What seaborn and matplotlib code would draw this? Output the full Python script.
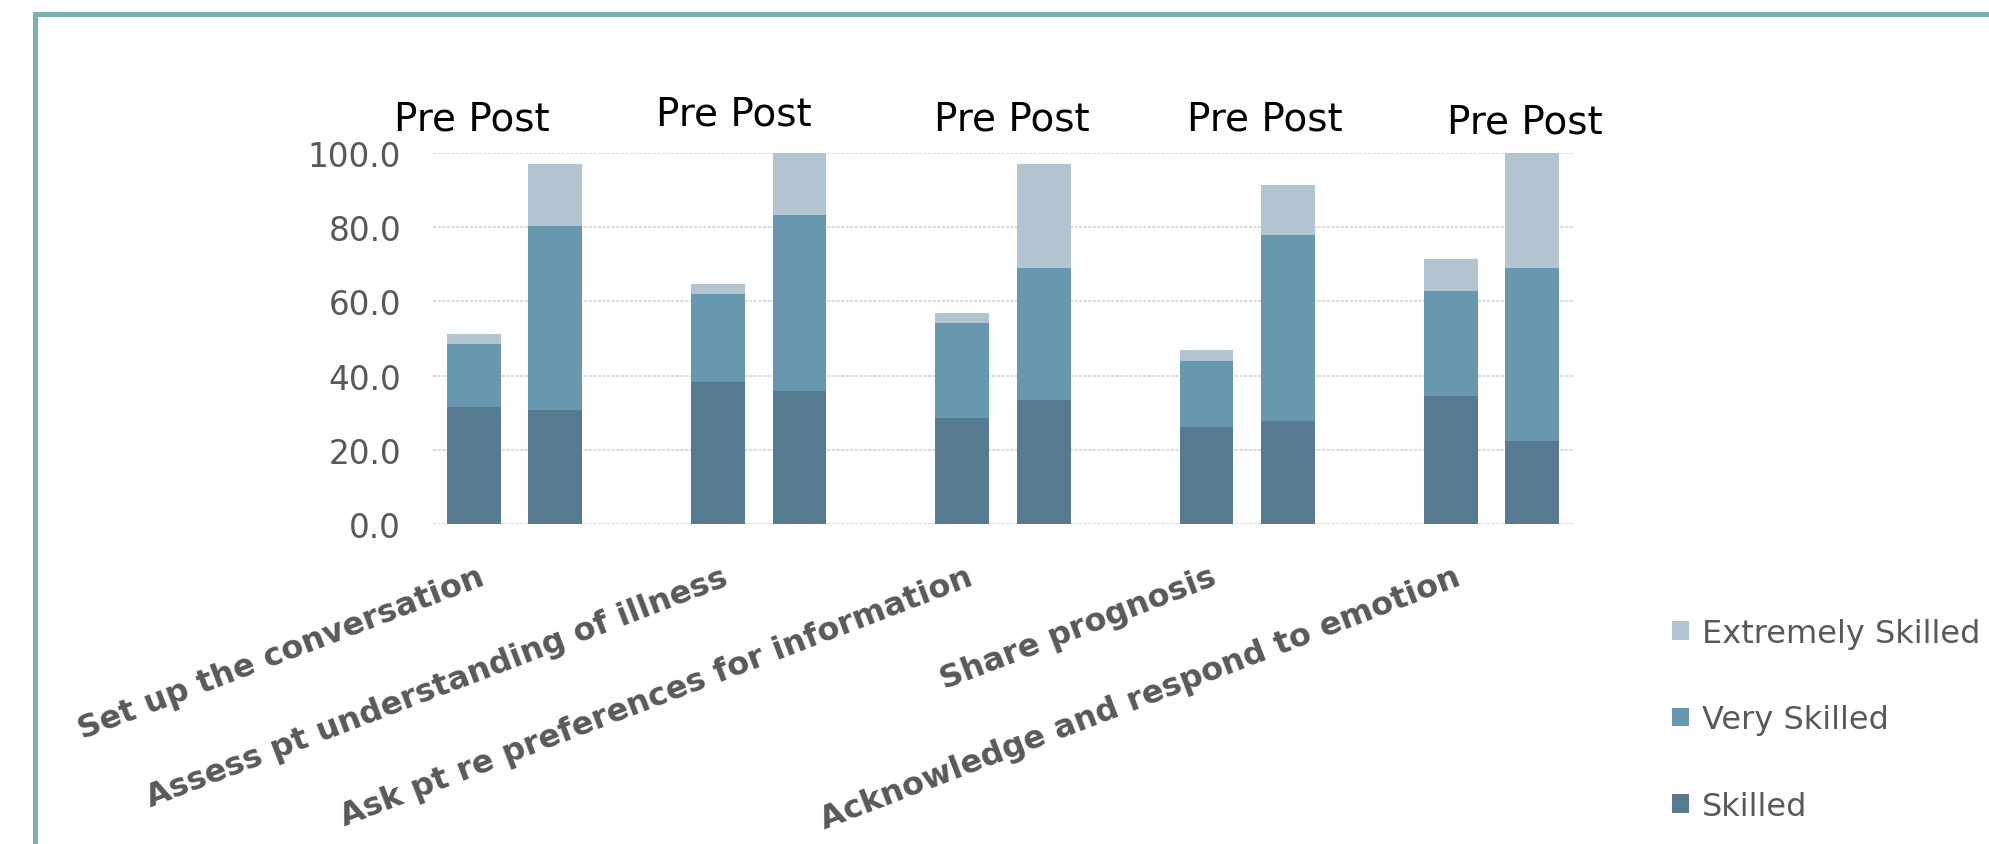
import numpy as np
import pandas as pd
import matplotlib
matplotlib.use("Agg")
import matplotlib.pyplot as plt
import matplotlib.transforms as mtransforms
from matplotlib.patches import Rectangle, Patch
import seaborn as sns

# ---------------- data ----------------
categories = [
    "Set up the conversation",
    "Assess pt understanding of illness",
    "Ask pt re preferences for information",
    "Share prognosis",
    "Acknowledge and respond to emotion",
]
phases = ["Pre", "Post"]
skilled_pre = [31.5, 38.3, 28.7, 26.2, 34.5]
skilled_post = [30.7, 35.9, 33.5, 27.7, 22.5]
very_pre = [16.9, 23.7, 25.5, 17.8, 28.3]
very_post = [49.5, 47.3, 35.6, 50.2, 46.6]
extreme_pre = [2.9, 2.8, 2.8, 3.0, 8.7]
extreme_post = [16.9, 16.8, 28.0, 13.4, 30.9]
series_names = ["Extremely Skilled", "Very Skilled", "Skilled"]
y_ticks = [0, 20, 40, 60, 80, 100]

# ---------------- style ----------------
c_skilled = "#567b90"
c_very = "#6897b0"
c_extreme = "#b2c4d0"
text_gray = "#595959"
frame_color = "#7ab2b0"
slots_per_group = 3          # Pre, Post, gap
prepost_offsets = [-0.52, -0.31, 0.11, 0.22, 0.41]
prepost_y = [1.094, 1.107, 1.094, 1.094, 1.086]

sns.set_theme(style="white")
plt.rcParams["font.family"] = ["DejaVu Sans"]

rows = []
for i, cat in enumerate(categories):
    for j, (s, v, e) in enumerate([(skilled_pre[i], very_pre[i], extreme_pre[i]),
                                   (skilled_post[i], very_post[i], extreme_post[i])]):
        rows.append(dict(category=cat, phase=phases[j],
                         pos=slots_per_group * i + j,
                         skilled=s, very=s + v, extreme=s + v + e))
df = pd.DataFrame(rows)

W, H = 1990, 845
fig = plt.figure(figsize=(W / 100, H / 100), dpi=100)
ax = fig.add_axes([433 / W, 1 - 525 / H, (1573 - 433) / W, (525 - 154) / H])

for col, color in [("extreme", c_extreme), ("very", c_very), ("skilled", c_skilled)]:
    sns.barplot(data=df, x="pos", y=col, native_scale=True, width=0.66,
                color=color, saturation=1, errorbar=None, ax=ax, linewidth=0)

n_slots = slots_per_group * len(categories) - 1
ax.set_xlim(-0.5, n_slots - 0.5)
ax.set_ylim(0, 100)
ax.set_xlabel("")
ax.set_ylabel("")
ax.set_yticks(y_ticks)
ax.set_yticklabels([f"{v:.1f}" for v in y_ticks])
ax.yaxis.grid(True, color="#d0d0d0", linewidth=1.1, linestyle=(0, (2, 1)))
ax.xaxis.grid(False)
ax.set_axisbelow(True)
for s in ax.spines.values():
    s.set_visible(False)
ax.tick_params(axis="y", length=0, pad=23, labelsize=23.5, labelcolor=text_gray)

pre_pos = df.loc[df["phase"] == "Pre", "pos"].to_numpy() + 0.04
ax.set_xticks(pre_pos)
ax.set_xticklabels(categories, rotation=21, ha="right", rotation_mode="anchor",
                   fontsize=23, fontweight="bold", color=text_gray)
ax.tick_params(axis="x", length=0, pad=27)

trans = mtransforms.blended_transform_factory(ax.transData, ax.transAxes)
for i in range(len(categories)):
    cx = slots_per_group * i + 0.5 + prepost_offsets[i]
    ax.text(cx, prepost_y[i], "Pre Post", transform=trans, ha="center", va="center",
            fontsize=28, color="black")

handles = [Patch(facecolor=c, edgecolor="none", label=n)
           for c, n in zip([c_extreme, c_very, c_skilled], series_names)]
fig.legend(handles=handles, loc="upper left",
           bbox_to_anchor=(1672 / W, 1 - 619 / H), frameon=False,
           fontsize=23, labelcolor=text_gray, handlelength=0.52, handleheight=0.52,
           handletextpad=0.42, labelspacing=1.73, borderpad=0, borderaxespad=0)

fig.add_artist(Rectangle((35.5 / W, -0.2), 1.2, 1 - 15 / H + 0.2,
                         transform=fig.transFigure, fill=False,
                         edgecolor=frame_color, linewidth=3.6, clip_on=False))

fig.savefig("out.png", dpi=100)
